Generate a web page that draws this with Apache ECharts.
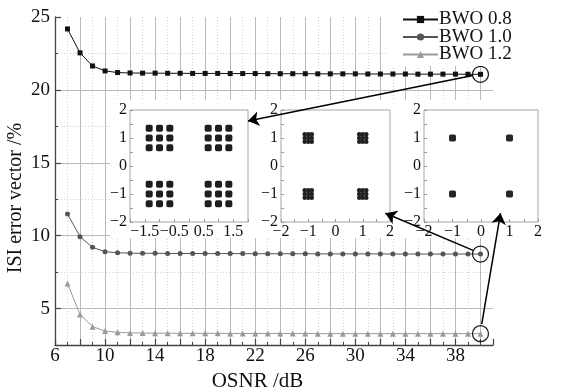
<!DOCTYPE html>
<html>
<head>
<meta charset="utf-8">
<script src="https://cdn.jsdelivr.net/npm/echarts@6/dist/echarts.min.js"></script>
<style>html,body{margin:0;padding:0;background:#fff;}#c{width:579px;height:389px;}</style>
</head>
<body>
<div id="c"></div>
<script>
// ---- main chart data ----
const osnr = [7,8,9,10,11,12,13,14,15,16,17,18,19,20,21,22,23,24,25,26,27,28,29,30,31,32,33,34,35,36,37,38,39,40];
const bwo08 = [24.18,22.54,21.64,21.30,21.19,21.16,21.15,21.15,21.14,21.14,21.13,21.13,21.13,21.12,21.12,21.12,21.11,21.11,21.11,21.11,21.10,21.10,21.10,21.10,21.09,21.09,21.09,21.09,21.08,21.08,21.08,21.08,21.07,21.07];
const bwo10 = [11.49,9.93,9.20,8.90,8.83,8.80,8.79,8.79,8.78,8.78,8.78,8.77,8.77,8.77,8.77,8.76,8.76,8.76,8.76,8.76,8.75,8.75,8.75,8.75,8.75,8.75,8.74,8.74,8.74,8.74,8.74,8.74,8.74,8.74];
const bwo12 = [6.72,4.59,3.76,3.46,3.37,3.33,3.32,3.31,3.31,3.30,3.30,3.30,3.30,3.29,3.29,3.29,3.29,3.29,3.29,3.29,3.28,3.28,3.28,3.28,3.28,3.28,3.28,3.28,3.28,3.28,3.28,3.28,3.28,3.28];
const seriesNames = ['BWO 0.8','BWO 1.0','BWO 1.2'];
const xAxisName = 'OSNR /dB';
const yAxisName = 'ISI error vector /%';
const yTop = 25;

// ---- inset constellations ----
const inset08 = [
  [-1.35,1.35],[-1,1.35],[-0.65,1.35],[-1.35,1],[-1,1],[-0.65,1],[-1.35,0.65],[-1,0.65],[-0.65,0.65],
  [0.65,1.35],[1,1.35],[1.35,1.35],[0.65,1],[1,1],[1.35,1],[0.65,0.65],[1,0.65],[1.35,0.65],
  [-1.35,-0.65],[-1,-0.65],[-0.65,-0.65],[-1.35,-1],[-1,-1],[-0.65,-1],[-1.35,-1.35],[-1,-1.35],[-0.65,-1.35],
  [0.65,-0.65],[1,-0.65],[1.35,-0.65],[0.65,-1],[1,-1],[1.35,-1],[0.65,-1.35],[1,-1.35],[1.35,-1.35]
];
const inset10 = [
  [-1.13,1.13],[-1,1.13],[-0.87,1.13],[-1.13,1],[-1,1],[-0.87,1],[-1.13,0.87],[-1,0.87],[-0.87,0.87],
  [0.87,1.13],[1,1.13],[1.13,1.13],[0.87,1],[1,1],[1.13,1],[0.87,0.87],[1,0.87],[1.13,0.87],
  [-1.13,-0.87],[-1,-0.87],[-0.87,-0.87],[-1.13,-1],[-1,-1],[-0.87,-1],[-1.13,-1.13],[-1,-1.13],[-0.87,-1.13],
  [0.87,-0.87],[1,-0.87],[1.13,-0.87],[0.87,-1],[1,-1],[1.13,-1],[0.87,-1.13],[1,-1.13],[1.13,-1.13]
];
const inset12 = [[-1,1],[1,1],[-1,-1],[1,-1]];

// ---- annotation arrows (main data space) ----
const arrowLines = [
  [[39.38,20.98],[21.42,17.87]],
  [[39.41,8.99],[32.4,11.54]],
  [[40.10,3.94],[41.6,11.54]]
];

const FONT = 'Liberation Serif';
const minus = v => (v < 0 ? '\u2212' + Math.abs(v) : String(v));

const chart = echarts.init(document.getElementById('c'), null, {renderer:'canvas'});

function insetAxes(gi, xHalf) {
  return {
    x: {
      type:'value', gridIndex:gi, min:-2, max:2, interval:0.5, z:3,
      axisLine:{show:false, onZero:false},
      axisTick:{show:true, inside:true, length:3, lineStyle:{color:'#999'}},
      splitLine:{show:false},
      axisLabel:{show:true, margin:2, fontSize:16, color:'#111', fontFamily:FONT,
        showMinLabel:true, showMaxLabel:true,
        formatter: v => {
          const half = Math.abs(Math.round(v*2)) % 2 === 1;
          if (xHalf) return half ? minus(v) : '';
          return half ? '' : minus(v);
        }}
    },
    y: {
      type:'value', gridIndex:gi, min:-2, max:2, interval:0.5, z:3,
      axisLine:{show:false, onZero:false},
      axisTick:{show:true, inside:true, length:3, lineStyle:{color:'#999'}},
      splitLine:{show:false},
      axisLabel:{show:true, margin:3, fontSize:16, color:'#111', fontFamily:FONT,
        showMinLabel:true, showMaxLabel:true,
        formatter: v => (Math.abs(Math.round(v*2)) % 2 === 1 ? '' : minus(v))}
    }
  };
}
const ia1 = insetAxes(1, true), ia2 = insetAxes(2, false), ia3 = insetAxes(3, false);

const insetGrid = (l, w) => ({left:l, top:110, width:w, height:112, show:true, z:3,
  containLabel:false, outerBoundsMode:'none',
  backgroundColor:'#fff', borderColor:'#aaa3a3', borderWidth:1});

const mkCircle = (arr) => ({
  symbol:'circle', symbolSize:16, silent:true, z:6,
  label:{show:false},
  itemStyle:{color:'rgba(0,0,0,0)', borderColor:'#111', borderWidth:1.2},
  data:[{coord:[osnr[osnr.length-1], arr[arr.length-1]]}]
});

const option = {
  animation:false,
  backgroundColor:'#fff',
  textStyle:{fontFamily:FONT},
  graphic:[{type:'rect', z:1, silent:true, shape:{x:110, y:100, width:440, height:138}, style:{fill:'#fff'}}],
  legend:{
    orient:'vertical', left:388, top:5, padding:[5,4,2,14], backgroundColor:'#fff', z:7,
    itemWidth:35, itemHeight:9, itemGap:-1.5,
    textStyle:{fontSize:19, color:'#111', fontFamily:FONT, padding:[0,0,0,-4]},
    data:seriesNames
  },
  grid:[
    {left:55, top:17, right:86, bottom:44, containLabel:false, outerBoundsMode:'none'},
    insetGrid(130, 118),
    insetGrid(281, 109),
    insetGrid(424, 114)
  ],
  xAxis:[
    {type:'value', gridIndex:0, position:'bottom', min:6, max:41, interval:2,
      name:xAxisName, nameLocation:'middle', nameGap:17,
      nameTextStyle:{fontSize:21, color:'#111', fontFamily:FONT, padding:[0,33,0,0]},
      axisLine:{show:true, onZero:false, lineStyle:{color:'#444', width:1.3}},
      axisTick:{show:true, inside:true, length:6, lineStyle:{color:'#444', width:1.2}},
      axisLabel:{margin:2, fontSize:19, color:'#111', fontFamily:FONT, showMinLabel:true, showMaxLabel:true,
        formatter: v => ((v - 6) % 4 === 0 ? String(v) : '')},
      splitLine:{show:true, showMinLine:false, showMaxLine:false, lineStyle:{color:'#b9b9b9', width:1}}
    },
    // odd-value dotted grid: inverted helper axis (0 at right = 41)
    {type:'value', gridIndex:0, position:'bottom', inverse:true, min:0, max:35, interval:2,
      axisLine:{show:false, onZero:false}, axisLabel:{show:false},
      axisTick:{show:true, inside:true, length:3, lineStyle:{color:'#444', width:1}},
      splitLine:{show:true, showMinLine:false, showMaxLine:false, lineStyle:{color:'#d0d0d0', width:1, type:[1,2]}}
    },
    ia1.x, ia2.x, ia3.x
  ],
  yAxis:[
    // data axis: dotted lines at 7.5, 12.5, ...
    {type:'value', gridIndex:0, position:'left', min:2.5, max:25, interval:5,
      axisLine:{show:false, onZero:false}, axisLabel:{show:false},
      axisTick:{show:true, inside:true, length:3, lineStyle:{color:'#444', width:1}},
      splitLine:{show:true, showMinLine:false, showMaxLine:false, lineStyle:{color:'#d0d0d0', width:1, type:[1,2]}}
    },
    // labelled axis: inverted helper, 0 at top = 25
    {type:'value', gridIndex:0, position:'left', inverse:true, min:0, max:22.5, interval:5,
      name:yAxisName, nameLocation:'middle', nameGap:29, nameMoveOverlap:false,
      nameTextStyle:{fontSize:20, color:'#111', fontFamily:FONT, padding:[0,34,0,0]},
      axisLine:{show:true, onZero:false, lineStyle:{color:'#444', width:1.3}},
      axisTick:{show:true, inside:true, length:6, lineStyle:{color:'#444', width:1.2}},
      axisLabel:{margin:5, fontSize:19, color:'#111', fontFamily:FONT, showMinLabel:true, showMaxLabel:false,
        formatter: v => String(yTop - v)},
      splitLine:{show:true, showMinLine:false, showMaxLine:false, lineStyle:{color:'#b9b9b9', width:1}}
    },
    ia1.y, ia2.y, ia3.y
  ],
  series:[
    {name:seriesNames[0], type:'line', xAxisIndex:0, yAxisIndex:0, z:2,
      data:osnr.map((x,i)=>[x,bwo08[i]]), symbol:'rect', symbolSize:5, showSymbol:true,
      itemStyle:{color:'#111'}, lineStyle:{color:'#111', width:1}, markPoint:mkCircle(bwo08)},
    {name:seriesNames[1], type:'line', xAxisIndex:0, yAxisIndex:0, z:2,
      data:osnr.map((x,i)=>[x,bwo10[i]]), symbol:'circle', symbolSize:5, showSymbol:true,
      itemStyle:{color:'#555'}, lineStyle:{color:'#555', width:1}, markPoint:mkCircle(bwo10)},
    {name:seriesNames[2], type:'line', xAxisIndex:0, yAxisIndex:0, z:2,
      data:osnr.map((x,i)=>[x,bwo12[i]]), symbol:'triangle', symbolSize:6, showSymbol:true,
      itemStyle:{color:'#9a9a9a'}, lineStyle:{color:'#9a9a9a', width:1}, markPoint:mkCircle(bwo12)},
    {type:'scatter', xAxisIndex:2, yAxisIndex:2, z:4, data:inset08, symbol:'roundRect', symbolSize:7,
      itemStyle:{color:'#1e1e1e', opacity:1}, silent:true},
    {type:'scatter', xAxisIndex:3, yAxisIndex:3, z:4, data:inset10, symbol:'circle', symbolSize:4.5,
      itemStyle:{color:'#222', opacity:1}, silent:true},
    {type:'scatter', xAxisIndex:4, yAxisIndex:4, z:4, data:inset12, symbol:'roundRect', symbolSize:7,
      itemStyle:{color:'#262626', opacity:1}, silent:true},
    {type:'lines', coordinateSystem:'cartesian2d', xAxisIndex:0, yAxisIndex:0, z:8, clip:false, silent:true,
      symbol:['none','arrow'], symbolSize:[7,11],
      lineStyle:{color:'#000', width:1.5, opacity:1, curveness:0},
      data:arrowLines.map(c => ({coords:c}))}
  ]
};
chart.setOption(option);
</script>
</body>
</html>
